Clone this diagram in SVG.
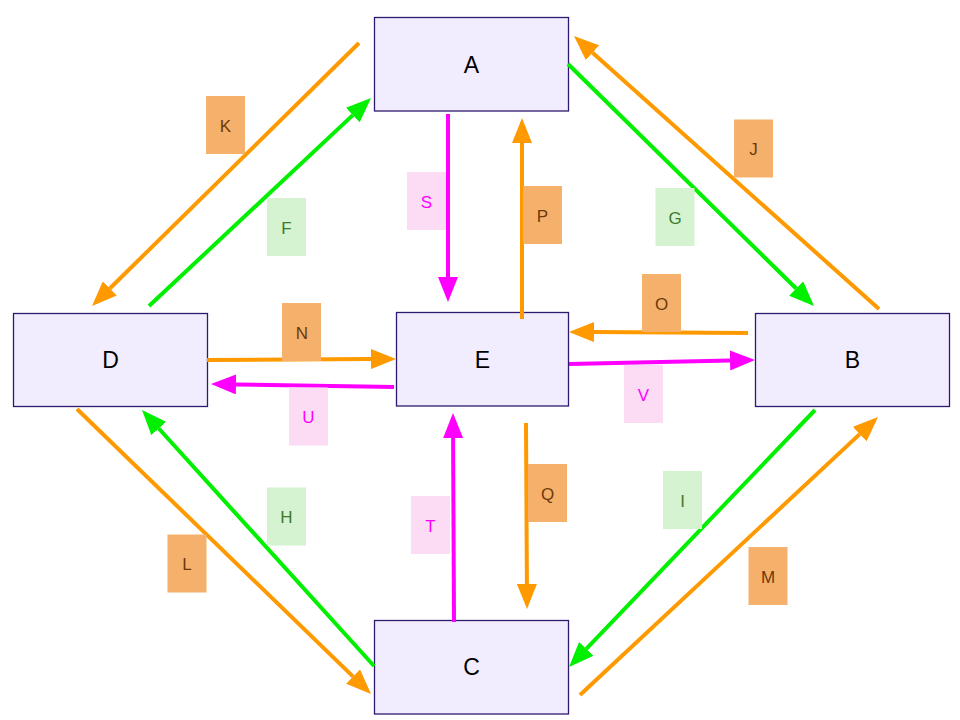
<svg xmlns="http://www.w3.org/2000/svg" width="960" height="720" viewBox="0 0 960 720">
<style>
.node rect{fill:#F2EDFE;stroke:#2E1A6E;stroke-width:1.3}
.node text{font-family:"Liberation Sans",Arial,sans-serif;font-size:23px;fill:#000;text-anchor:middle;dominant-baseline:central}
.c{fill:none;stroke-width:4}
.or{stroke:#FF9900}
.gr{stroke:#00F000}
.mg{stroke:#FF00FF}
.lbl text{font-family:"Liberation Sans",Arial,sans-serif;font-size:17px;text-anchor:middle;dominant-baseline:central}
.lo rect{fill:#F5B16B}
.lo text{fill:#6B3A0B}
.lg rect{fill:#D5F3D0}
.lg text{fill:#3E7A2A}
.lp rect{fill:#FCDCF5}
.lp text{fill:#FF00FF}
</style>
<defs>
<marker id="ao" viewBox="0 -10 25 20" refX="0" refY="0" markerWidth="25" markerHeight="20" markerUnits="userSpaceOnUse" orient="auto"><path d="M0,-10L25,0L0,10z" fill="#FF9900"/></marker>
<marker id="ag" viewBox="0 -10 25 20" refX="0" refY="0" markerWidth="25" markerHeight="20" markerUnits="userSpaceOnUse" orient="auto"><path d="M0,-10L25,0L0,10z" fill="#00F000"/></marker>
<marker id="am" viewBox="0 -10 25 20" refX="0" refY="0" markerWidth="25" markerHeight="20" markerUnits="userSpaceOnUse" orient="auto"><path d="M0,-10L25,0L0,10z" fill="#FF00FF"/></marker>
</defs>
<rect width="960" height="720" fill="#fff"/>
<g class="node" id="A"><rect x="374.5" y="17.5" width="194" height="93.5"/><text x="471.5" y="65">A</text></g>
<g class="node" id="D"><rect x="13.5" y="313.5" width="194" height="93"/><text x="110.5" y="360">D</text></g>
<g class="node" id="E"><rect x="396.5" y="312.5" width="172" height="93.5"/><text x="482.5" y="360">E</text></g>
<g class="node" id="B"><rect x="755.5" y="313.5" width="194" height="93"/><text x="852.5" y="360">B</text></g>
<g class="node" id="C"><rect x="374.5" y="620.5" width="194" height="93.5"/><text x="471.5" y="667">C</text></g>
<g id="connectors">
<line class="c or" x1="359" y1="43" x2="109.8" y2="288.5" marker-end="url(#ao)"/>
<line class="c gr" x1="149" y1="306" x2="352.8" y2="115.1" marker-end="url(#ag)"/>
<line class="c or" x1="879" y1="309" x2="592.6" y2="52.7" marker-end="url(#ao)"/>
<line class="c gr" x1="568" y1="64" x2="796.2" y2="288.5" marker-end="url(#ag)"/>
<line class="c mg" x1="448" y1="114" x2="448" y2="277" marker-end="url(#am)"/>
<line class="c or" x1="522" y1="319" x2="522" y2="143" marker-end="url(#ao)"/>
<line class="c or" x1="207" y1="360" x2="371" y2="359.1" marker-end="url(#ao)"/>
<line class="c mg" x1="394" y1="387" x2="236" y2="384.4" marker-end="url(#am)"/>
<line class="c or" x1="748" y1="333" x2="594" y2="332.1" marker-end="url(#ao)"/>
<line class="c mg" x1="569" y1="364" x2="730" y2="360.5" marker-end="url(#am)"/>
<line class="c or" x1="77" y1="409" x2="353.1" y2="676.6" marker-end="url(#ao)"/>
<line class="c gr" x1="374" y1="666" x2="158.8" y2="428.5" marker-end="url(#ag)"/>
<line class="c gr" x1="815" y1="410" x2="586.3" y2="648.9" marker-end="url(#ag)"/>
<line class="c or" x1="580" y1="695" x2="859.7" y2="434.1" marker-end="url(#ao)"/>
<line class="c mg" x1="454" y1="622" x2="453.1" y2="438" marker-end="url(#am)"/>
<line class="c or" x1="526" y1="423" x2="526.9" y2="584" marker-end="url(#ao)"/>
</g>
<g id="labels">
<g class="lbl lo" id="lK"><rect x="206" y="96" width="39" height="58"/><text x="225.5" y="126">K</text></g>
<g class="lbl lg" id="lF"><rect x="267" y="198" width="39" height="58"/><text x="286.5" y="228">F</text></g>
<g class="lbl lo" id="lJ"><rect x="734" y="119.5" width="39" height="58"/><text x="753.5" y="149.5">J</text></g>
<g class="lbl lg" id="lG"><rect x="655.5" y="188" width="39" height="58"/><text x="675" y="218">G</text></g>
<g class="lbl lp" id="lS"><rect x="407" y="172" width="39" height="58"/><text x="426.5" y="202">S</text></g>
<g class="lbl lo" id="lP"><rect x="523" y="186" width="39" height="58"/><text x="542.5" y="216">P</text></g>
<g class="lbl lo" id="lN"><rect x="282" y="303" width="39" height="58"/><text x="302" y="333">N</text></g>
<g class="lbl lp" id="lU"><rect x="289" y="387.5" width="39" height="58"/><text x="308.5" y="417.5">U</text></g>
<g class="lbl lo" id="lO"><rect x="642" y="274" width="39" height="58"/><text x="661.5" y="304">O</text></g>
<g class="lbl lp" id="lV"><rect x="624" y="365" width="39" height="58"/><text x="643.5" y="395">V</text></g>
<g class="lbl lo" id="lL"><rect x="167.5" y="534.5" width="39" height="58"/><text x="187" y="564.5">L</text></g>
<g class="lbl lg" id="lH"><rect x="267" y="487.5" width="39" height="58"/><text x="286.5" y="517.5">H</text></g>
<g class="lbl lg" id="lI"><rect x="663" y="471" width="39" height="58"/><text x="682.5" y="501">I</text></g>
<g class="lbl lo" id="lM"><rect x="748.5" y="547" width="39" height="58"/><text x="768" y="577">M</text></g>
<g class="lbl lp" id="lT"><rect x="411" y="496" width="39" height="58"/><text x="430.5" y="526">T</text></g>
<g class="lbl lo" id="lQ"><rect x="528" y="464" width="39" height="58"/><text x="547.5" y="494">Q</text></g>
</g>
</svg>
